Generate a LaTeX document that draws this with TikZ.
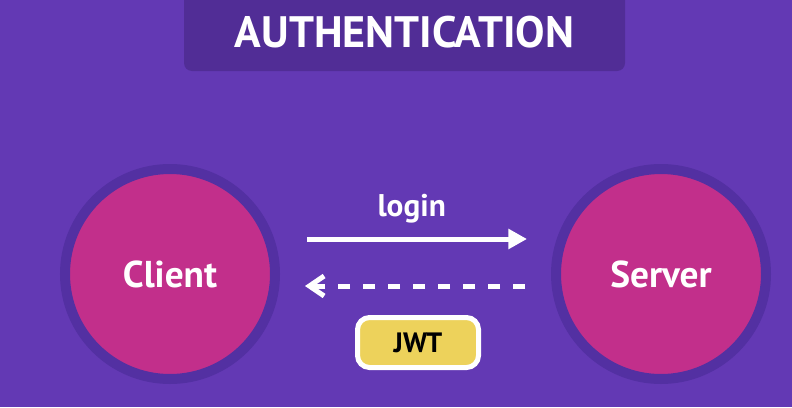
\documentclass[tikz,border=0pt]{standalone}
\usepackage{fontspec}
\setmainfont{PT Sans}
\usetikzlibrary{arrows.meta}

\definecolor{bgPurple}{HTML}{6339B4}
\definecolor{boxPurple}{HTML}{512D96}
\definecolor{ringPurple}{HTML}{5330A2}
\definecolor{peerPink}{HTML}{C22F8B}
\definecolor{tokenYellow}{HTML}{EDD25B}

\begin{document}
\begin{tikzpicture}[x=0.75pt,y=-0.75pt]
        \tikzstyle{peerNode}=[draw=ringPurple,fill=peerPink,circle,line width=7.5pt,minimum size=157.5pt,inner sep=0pt,text=white,font=\fontsize{28}{30}\selectfont\bfseries]
        \tikzstyle{flowArrow}=[white,line width=3.75pt]
    \useasboundingbox (0,0) rectangle (792,407);
    \fill[bgPurple] (0,0) rectangle (792,407);

    \node[fill=boxPurple,rounded corners=6pt,minimum width=330.75pt,minimum height=68.25pt,inner sep=0pt] (titleBox) at (404.5,25.5) {};
    \node[text=white,font=\fontsize{33}{36}\selectfont\bfseries] (title) at (404.5,32) {AUTHENTICATION};

    \node[peerNode] (client) at (170,274) {Client};
    \node[peerNode] (server) at (661,274) {Server};

    \coordinate (loginFrom) at (307,239);
    \coordinate (loginTo) at (527,239);
    \coordinate (tokenFrom) at (525,286);
    \coordinate (tokenTo) at (305,286);

    \draw[flowArrow,-{Triangle[length=14pt,width=14.5pt]}] (loginFrom) -- node[above=7pt,xshift=-4pt,text=white,font=\fontsize{23.5}{25}\selectfont\bfseries] (login) {login} (loginTo);
    \draw[flowArrow,dash pattern=on 9pt off 9.75pt,-{Straight Barb[length=11pt,width=15pt]}] (tokenFrom) -- (tokenTo);

    \node[draw=white,fill=tokenYellow,line width=3.75pt,rounded corners=9pt,minimum width=90.75pt,minimum height=37.5pt,inner sep=0pt,font=\fontsize{21}{23}\selectfont\bfseries] (jwt) at (418,342.5) {JWT};
    \end{tikzpicture}
\end{document}
